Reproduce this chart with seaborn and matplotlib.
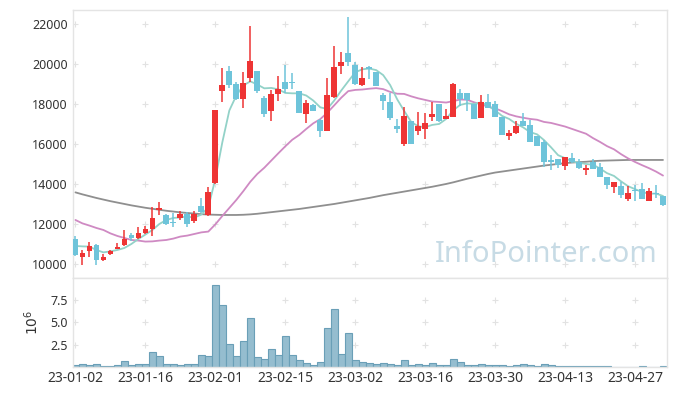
import numpy as np
import pandas as pd
import matplotlib
matplotlib.use("Agg")
import matplotlib.pyplot as plt
import seaborn as sns

# daily candles (trading-day index 0..84), KRW
opens = [11250, 10330, 10630, 10970, 10180, 10480, 10770, 10950, 11470, 11280,
         11530, 11730, 12700, 12470, 12070, 12280, 12500, 12130, 12920, 12450,
         14070, 18630, 19670, 19020, 18230, 19280, 19650, 18300, 17630, 18480,
         19120, 19120, 18650, 17480, 17970, 17220, 16630, 18330, 19880, 20530,
         19970, 18930, 19870, 19590, 18450, 18100, 16910, 16000, 17150, 16670,
         16750, 17370, 18000, 17250, 17370, 18550, 18550, 18000, 17280, 18120,
         18000, 17370, 16420, 16570, 17150, 16950, 16420, 16120, 15200, 15250,
         14900, 15290, 15120, 14700, 15090, 14870, 14340, 13840, 13880, 13260,
         13680, 13740, 13130, 13540, 13410]
highs = [11380, 10700, 11120, 11000, 10500, 10720, 11030, 11700, 11550, 11870,
         11920, 12870, 13100, 12500, 12550, 12670, 12580, 12670, 13300, 13870,
         17720, 19800, 19920, 19080, 19620, 21920, 19670, 18420, 18720, 19400,
         19970, 19570, 18670, 18220, 18000, 17250, 19300, 20920, 20580, 22370,
         20080, 19830, 19920, 19590, 18530, 18530, 17240, 17850, 17150, 17600,
         17550, 18100, 18000, 17750, 19050, 18770, 18550, 18000, 18450, 18480,
         18150, 17370, 16700, 17130, 17530, 17200, 16420, 16200, 15450, 15250,
         15370, 15540, 15240, 14950, 15240, 15040, 14340, 14120, 14120, 13880,
         13960, 14040, 13790, 13930, 13410]
lows = [10420, 9950, 10330, 9950, 10170, 10450, 10730, 10900, 11130, 11230,
        11500, 11380, 12470, 11950, 11830, 12220, 11870, 12070, 12530, 12420,
        13980, 18120, 18800, 18200, 17800, 19080, 18550, 17330, 17130, 18170,
        18550, 18770, 17530, 17070, 17630, 16330, 16630, 18300, 19500, 19920,
        18970, 18920, 19270, 18890, 17700, 17200, 16550, 15900, 16000, 16450,
        16250, 17150, 17100, 17250, 17350, 17900, 17650, 17270, 17280, 17780,
        17350, 16450, 16200, 16520, 16900, 16120, 15920, 14870, 14700, 14790,
        14700, 15040, 14740, 14460, 14740, 14370, 13740, 13540, 13290, 13130,
        13130, 13260, 13130, 13300, 12900]
closes = [10450, 10530, 10920, 10200, 10370, 10670, 10870, 11270, 11320, 11570,
          11770, 12320, 12800, 11980, 12030, 12500, 12000, 12480, 12600, 13620,
          17720, 18970, 18950, 18230, 19070, 20170, 18630, 17480, 18500, 18770,
          18730, 19050, 17530, 18050, 17630, 16630, 18470, 19870, 20120, 20120,
          19000, 19320, 19740, 18890, 18170, 17320, 16740, 17400, 16000, 16900,
          17050, 17500, 17150, 17400, 19000, 18270, 18200, 17270, 18120, 17780,
          17350, 16450, 16570, 16900, 16900, 16120, 15920, 15120, 15100, 14950,
          15340, 15120, 14790, 14820, 14740, 14370, 13960, 14120, 13440, 13540,
          13630, 13260, 13660, 13510, 12960]

# volume, millions of shares
volume = [0.19, 0.30, 0.19, 0.30, 0.07, 0.07, 0.19, 0.63, 0.19, 0.30,
          0.30, 1.64, 1.19, 0.30, 0.30, 0.19, 0.30, 0.30, 1.31, 1.19,
          9.07, 6.90, 2.57, 1.19, 2.90, 5.45, 1.08, 0.86, 1.98, 1.31,
          3.43, 1.31, 0.75, 0.41, 0.19, 0.52, 4.33, 6.46, 1.42, 3.77,
          0.75, 0.52, 0.41, 0.30, 0.41, 0.30, 0.19, 0.75, 0.19, 0.30,
          0.19, 0.41, 0.19, 0.19, 0.86, 0.52, 0.19, 0.19, 0.30, 0.19,
          0.19, 0.19, 0.07, 0.19, 0.30, 0.19, 0.07, 0.30, 0.19, 0.07,
          0.07, 0.07, 0.07, 0.07, 0.07, 0.07, 0.07, 0.02, 0.02, 0.02,
          0.02, 0.07, 0.02, 0.02, 0.07]

# moving averages as drawn
ma5 = [10900, 10880, 10870, 10700, 10580, 10630, 10700, 10800, 11000, 11250,
       11470, 11700, 12000, 12200, 12300, 12330, 12370, 12320, 12470, 12830,
       14250, 16080, 17670, 18420, 18920, 19130, 18970, 18780, 18800, 18730,
       18550, 18530, 18530, 18420, 18170, 17830, 17750, 18170, 18670, 19130,
       19580, 19730, 19770, 19690, 19440, 18940, 18230, 17650, 17100, 16880,
       16840, 16950, 17000, 17250, 17680, 17950, 18030, 18000, 18080, 17900,
       17680, 17400, 17250, 17010, 16830, 16590, 16480, 16190, 15830, 15440,
       15290, 15130, 15060, 15000, 14960, 14770, 14540, 14400, 14130, 13890,
       13740, 13600, 13510, 13520, 13400]
ma20 = [12200, 12030, 11920, 11800, 11700, 11530, 11400, 11300, 11200, 11170,
        11120, 11130, 11170, 11200, 11270, 11370, 11420, 11500, 11580, 11620,
        11980, 12400, 12800, 13200, 13640, 14110, 14500, 14810, 15170, 15530,
        15880, 16210, 16450, 16750, 17030, 17240, 17560, 17930, 18310, 18640,
        18700, 18720, 18760, 18790, 18740, 18600, 18510, 18500, 18380, 18280,
        18200, 18120, 18100, 18070, 18140, 18220, 18210, 18080, 17980, 17860,
        17780, 17640, 17480, 17380, 17310, 17250, 17210, 17100, 17050, 16960,
        16870, 16750, 16630, 16510, 16290, 16100, 15890, 15730, 15490, 15280,
        15100, 14940, 14790, 14620, 14420]
ma60 = [13580, 13480, 13390, 13300, 13220, 13140, 13070, 13000, 12930, 12870,
        12810, 12760, 12710, 12660, 12620, 12580, 12550, 12520, 12490, 12470,
        12460, 12450, 12450, 12450, 12460, 12480, 12510, 12550, 12590, 12630,
        12670, 12710, 12750, 12800, 12850, 12900, 12950, 13000, 13060, 13120,
        13180, 13240, 13300, 13370, 13440, 13500, 13560, 13620, 13680, 13740,
        13800, 13860, 13930, 14000, 14080, 14170, 14260, 14340, 14420, 14500,
        14570, 14620, 14670, 14720, 14770, 14820, 14870, 14920, 14960, 15000,
        15040, 15070, 15090, 15110, 15140, 15160, 15170, 15180, 15190, 15200,
        15200, 15200, 15200, 15200, 15200]

tick_pos = [0, 10, 20, 30, 40, 50, 60, 70, 80]
tick_labels = ["23-01-02", "23-01-16", "23-02-01", "23-02-15", "23-03-02",
               "23-03-16", "23-03-30", "23-04-13", "23-04-27"]

UP, DOWN = "#ee3434", "#6ec4da"
FRAME = "#e4e4e4"

sns.set_style("white")
plt.rcParams["font.family"] = ["Noto Sans", "DejaVu Sans"]

df = pd.DataFrame({"day": np.arange(len(closes)), "open": opens, "high": highs,
                   "low": lows, "close": closes, "volume": volume,
                   "ma5": ma5, "ma20": ma20, "ma60": ma60})
up = df["close"] >= df["open"]

fig = plt.figure(figsize=(6.77, 3.96), dpi=100)
ax = fig.add_axes([0.108, 0.298, 0.877, 0.677])
axv = fig.add_axes([0.108, 0.073, 0.877, 0.225])

# moving averages
sns.lineplot(data=df, x="day", y="ma60", ax=ax, color="#8f8f8f", lw=1.3)
sns.lineplot(data=df, x="day", y="ma20", ax=ax, color="#cf8ac3", lw=1.3)
sns.lineplot(data=df, x="day", y="ma5", ax=ax, color="#93d2c8", lw=1.3)

# candles
for mask, col in [(up, UP), (~up, DOWN)]:
    d = df[mask]
    ax.vlines(d["day"], d["low"], d["high"], color=col, lw=1.1, zorder=3)
    body = (d["close"] - d["open"]).abs().clip(lower=50)
    ax.bar(d["day"], body, bottom=d[["open", "close"]].min(axis=1),
           width=0.82, color=col, lw=0, zorder=4)

ax.set_xlim(-0.33, 84.55)
ax.set_ylim(9300, 22700)
ax.set_yticks(range(10000, 22001, 2000))
ax.set_xticks([])
ax.set_xlabel(""); ax.set_ylabel("")

# volume bars
sns.barplot(data=df, x="day", y="volume", ax=axv, color="#95bdcf",
            edgecolor="#6a9fb7", linewidth=0.8, width=1.0, saturation=1)
axv.set_xlim(-0.33, 84.55)
axv.set_ylim(0, 9.9)
axv.set_yticks([2.5, 5.0, 7.5])
axv.set_xticks(tick_pos)
axv.set_xticklabels(tick_labels)
axv.set_xlabel("")
axv.set_ylabel("$10^6$", fontsize=10, color="#333333", labelpad=6)

# "+" grid marks at tick crossings
for a, ys in [(ax, range(10000, 22001, 2000)), (axv, [2.5, 5.0, 7.5])]:
    gx, gy = np.meshgrid(tick_pos, list(ys))
    a.scatter(gx.ravel(), gy.ravel(), marker="+", s=18, color="#e2e2e2",
              lw=0.8, zorder=0)
    a.tick_params(length=0, labelsize=9, labelcolor="#333333", pad=4)
    for s in a.spines.values():
        s.set_color(FRAME)
        s.set_linewidth(1.0)
axv.tick_params(axis="x", labelsize=10, pad=3)

ax.text(0.985, 0.035, "InfoPointer.com", transform=ax.transAxes,
        ha="right", va="bottom", fontsize=21, color="#c7dbe5", zorder=1)

fig.savefig("out.png", dpi=100, facecolor="white")
